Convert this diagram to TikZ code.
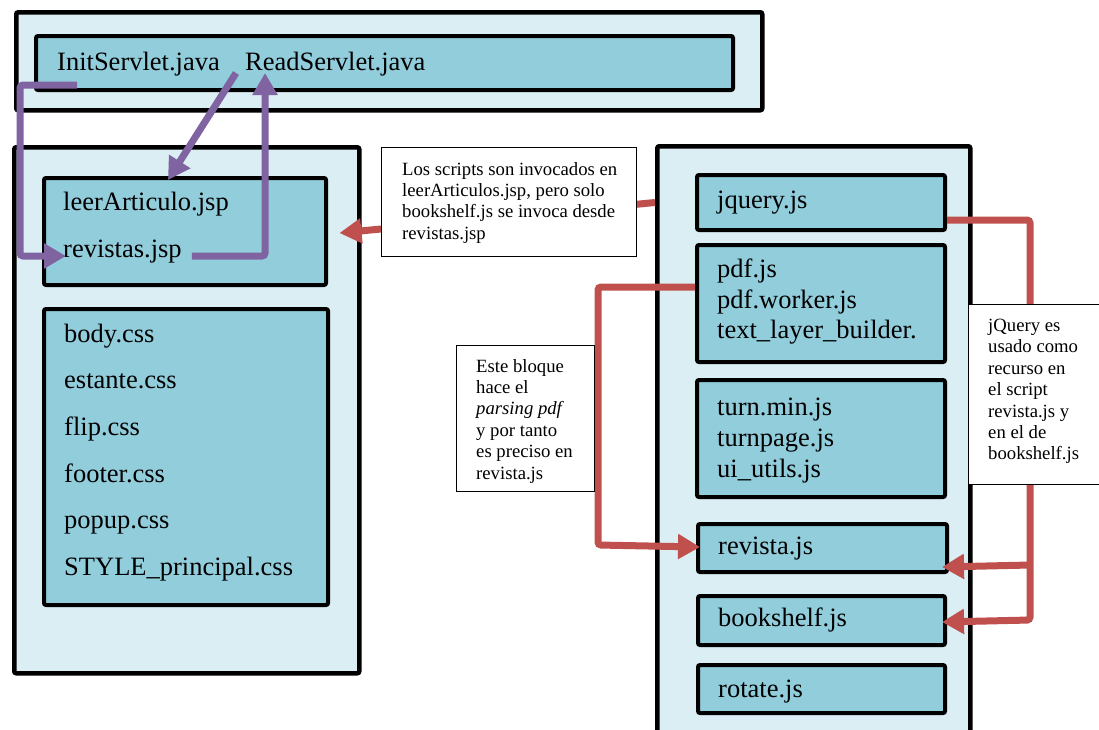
\documentclass[tikz,border=0pt]{standalone}
\usepackage{fontspec}
\setmainfont{Liberation Serif}
\usetikzlibrary{arrows.meta,calc}

\definecolor{outerfill}{HTML}{DAEEF3}
\definecolor{innerfill}{HTML}{92CDDC}
\definecolor{purplelink}{HTML}{8064A2}
\definecolor{redlink}{HTML}{C0504D}

\begin{document}
\begin{tikzpicture}[x=1pt,y=-1pt,
  container/.style={draw=black, line width=4.5pt, fill=outerfill, rounded corners=2pt,
    anchor=north west, inner sep=0pt},
  filebox/.style={draw=black, line width=4pt, fill=innerfill, rounded corners=2pt,
    anchor=north west, inner sep=0pt},
  fname/.style={anchor=base west, inner sep=0pt, font=\fontsize{26.5}{30}\selectfont},
  notebox/.style={draw=black, line width=0.9pt, fill=white, anchor=north west, inner sep=0pt},
  notetext/.style={anchor=north west, inner sep=0pt, align=left,
    font=\fontsize{18.7}{21.4}\selectfont},
  link/.style={line width=7pt, rounded corners=3pt, -{Triangle[width=24pt,length=22pt]}},
  plink/.style={link, draw=purplelink},
  rlink/.style={link, draw=redlink},
]
\useasboundingbox (0,0) rectangle (1099,729);

% servlets
\node[container, minimum width=746pt, minimum height=98pt] (srv) at (14,10) {};
\node[filebox, minimum width=697pt, minimum height=54pt] (srvbox) at (34,34) {};
\node[fname] (init) at (57,70) {InitServlet.java};
\node[fname] (read) at (245,70) {ReadServlet.java};

% JSP pages and style sheets
\node[container, minimum width=345pt, minimum height=526pt] (lc) at (12,145) {};
\node[filebox, minimum width=282pt, minimum height=107pt] (leerbox) at (42,176) {};
\node[fname] (leert) at (63,210) {leerArticulo.jsp};
\node[fname] (revt) at (63,257) {revistas.jsp};
\node[filebox, minimum width=284pt, minimum height=296pt] (cssbox) at (42,307) {};
\node[fname] (css1) at (64,342) {body.css};
\node[fname] (css2) at (64,388) {estante.css};
\node[fname] (css3) at (64,435) {flip.css};
\node[fname] (css4) at (64,482) {footer.css};
\node[fname] (css5) at (64,528) {popup.css};
\node[fname] (css6) at (64,575) {STYLE\_principal.css};

% scripts
\node[container, minimum width=313pt, minimum height=616pt] (rc) at (655,144) {};
\node[filebox, minimum width=248pt, minimum height=55pt] (jq) at (695,173) {};
\node[fname] (jqt) at (717,208) {jquery.js};
\node[filebox, minimum width=248pt, minimum height=117pt] (pdf) at (695,243) {};
\node[fname] (pdf1) at (717,277) {pdf.js};
\node[fname] (pdf2) at (717,308) {pdf.worker.js};
\node[fname] (pdf3) at (717,338) {text\_layer\_builder.};
\node[filebox, minimum width=248pt, minimum height=117pt] (turn) at (695,378) {};
\node[fname] (turn1) at (717,415) {turn.min.js};
\node[fname] (turn2) at (717,446) {turnpage.js};
\node[fname] (turn3) at (717,477) {ui\_utils.js};
\node[filebox, minimum width=249pt, minimum height=48pt] (rv) at (696,522) {};
\node[fname] (rvt) at (718,554) {revista.js};
\node[filebox, minimum width=247pt, minimum height=49pt] (bk) at (696,594) {};
\node[fname] (bkt) at (718,626) {bookshelf.js};
\node[filebox, minimum width=247pt, minimum height=48pt] (rot) at (696,663) {};
\node[fname] (rott) at (718,697) {rotate.js};

% servlet links
\coordinate (pA) at (20,85);
\coordinate (pB) at (20,256);
\coordinate (pC) at (265,256);
\draw[plink] ($(init.base west)+(20,15)$) -- (pA) -- (pB) -- ($(revt.base west)+(3,-1)$);
\draw[plink] ($(read.base west)+(-9,3)$) -- ($(leerbox.north west)+(126,4)$);
\draw[plink] ($(revt.base east)+(10,-1)$) -- (pC) -- ($(read.base west)+(20,3)$);

% script links
\coordinate (rA) at (598,287);
\coordinate (rB) at (598,545);
\coordinate (rC) at (1030,220);
\coordinate (rD) at (1030,620);
\coordinate (rE) at (1030,565);
\draw[rlink] (rc.west |- jq.west) -- ($(lc.north east)+(-22,88)$);
\draw[rlink] (pdf.west |- rA) -- (rA) -- (rB) -- ($(rv.west)+(4,-1)$);
\draw[rlink] (jq.east |- rC) -- (rC) -- (rD) -- ($(bk.east)+(-5,1.5)$);
\draw[rlink] (rE) -- ($(rv.east)+(-7,19)$);

% notes
\node[notebox, minimum width=255pt, minimum height=109pt] (n1) at (381,147) {};
\node[notetext] (n1t) at (402,162) {Los scripts son invocados en\\leerArticulos.jsp, pero solo\\bookshelf.js se invoca desde\\revistas.jsp};
\node[notebox, minimum width=138pt, minimum height=146pt] (n2) at (456,345) {};
\node[notetext] (n2t) at (476,359) {Este bloque\\hace el\\\textit{parsing pdf}\\y por tanto\\es preciso en\\revista.js};
\node[notebox, minimum width=140pt, minimum height=180pt] (n3) at (968,304) {};
\node[notetext] (n3t) at (988,319) {jQuery es\\usado como\\recurso en\\el script\\revista.js y\\en el de\\bookshelf.js};
\end{tikzpicture}
\end{document}
